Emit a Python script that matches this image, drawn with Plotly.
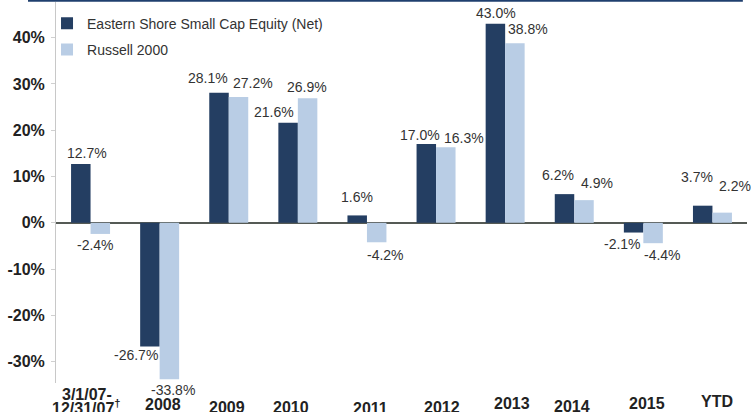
import plotly.graph_objects as go

# ---- data ----
categories = ["3/1/07-12/31/07", "2008", "2009", "2010", "2011", "2012", "2013", "2014", "2015", "YTD"]
tick_labels = ["3/1/07-<br>12/31/07<sup>†</sup>", "2008", "2009", "2010", "2011", "2012", "2013", "2014", "2015", "YTD"]
fund = [12.7, -26.7, 28.1, 21.6, 1.6, 17.0, 43.0, 6.2, -2.1, 3.7]
bench = [-2.4, -33.8, 27.2, 26.9, -4.2, 16.3, 38.8, 4.9, -4.4, 2.2]
fund_name = "Eastern Shore Small Cap Equity (Net)"
bench_name = "Russell 2000"
y_ticks = [-30, -20, -10, 0, 10, 20, 30, 40]

# ---- styling (label offsets in px) ----
DARK = "#243e62"
LIGHT = "#b9cde5"
TXT = "#333333"
FONT = "Liberation Sans, Arial, sans-serif"
fund_dx = [-4, -24, -21, -23.5, -9.6, -16, -9, -16, -21, -15]
fund_dy = [11, -9, 14.6, 10.7, 18.3, 9, 11, 19, -11.6, 28.6]
bench_dx = [4.8, 13.7, 24, 9.5, 19, 28, 23, 23, 19, 23]
bench_dy = [-11.2, -10.8, 13.8, 10.8, -13, 9, 14, 17, -12, 26.5]
xlab_dx = [-4, 3, -2, -7, 4, 6, 7, -2, 4, 5]
xlab_cy = [394, 404, 407, 407, 408, 407, 403, 406, 403, 401]

fig = go.Figure()
fig.add_trace(go.Bar(x=categories, y=fund, name=fund_name, marker=dict(color=DARK, line=dict(width=0)),
                     legendgroup="a"))
fig.add_trace(go.Bar(x=categories, y=bench, name=bench_name, marker=dict(color=LIGHT, line=dict(width=0)),
                     legendgroup="b"))

annotations = []
for i, c in enumerate(categories):
    for vals, dx, dy in ((fund, fund_dx, fund_dy), (bench, bench_dx, bench_dy)):
        annotations.append(dict(x=i, y=vals[i], xref="x", yref="y", text=f"{vals[i]:.1f}%",
                                showarrow=False, xanchor="center", yanchor="middle",
                                xshift=dx[i], yshift=dy[i],
                                font=dict(family=FONT, size=14, color=TXT)))
    lines = tick_labels[i].split("<br>")
    for j, ln in enumerate(lines):
        annotations.append(dict(x=i, y=0, xref="x", yref="paper", text=ln, showarrow=False,
                                xanchor="center", yanchor="middle",
                                xshift=xlab_dx[i], yshift=-(xlab_cy[i] + 13 * j - 383),
                                font=dict(family=FONT, size=16, color="#222222", weight="bold")))

fig.update_layout(
    width=751, height=412,
    margin=dict(l=56, r=4, t=2, b=29, autoexpand=False),
    paper_bgcolor="white", plot_bgcolor="white",
    barmode="group", bargap=0.436, bargroupgap=0,
    showlegend=True,
    legend=dict(x=-0.013, y=0.985, xanchor="left", yanchor="top", bgcolor="rgba(0,0,0,0)",
                font=dict(family=FONT, size=14, color=TXT),
                tracegroupgap=5, itemwidth=30),
    xaxis=dict(range=[-0.5, 9.5], showticklabels=False, showline=False, showgrid=False,
               zeroline=False, ticks="", automargin=False),
    yaxis=dict(range=[-34.6, 47.7], tickvals=y_ticks, ticktext=[f"{v}%" for v in y_ticks],
               showgrid=False, showline=True, linecolor="#c8c8c8", linewidth=1,
               ticks="outside", ticklen=4, tickcolor="#d0d0d0", automargin=False,
               ticklabelstandoff=3,
               zeroline=True, zerolinecolor="#555a55", zerolinewidth=2,
               tickfont=dict(family=FONT, size=16, color="#222222", weight="bold")),
    annotations=annotations,
    shapes=[dict(type="line", xref="paper", yref="paper", x0=-0.0405, x1=0.994, y0=1.003, y1=1.003,
                 line=dict(color="#1f3f6e", width=2))],
)

fig.write_html("out.html", config={"displayModeBar": False},
               post_script="document.body.style.margin='0';")
